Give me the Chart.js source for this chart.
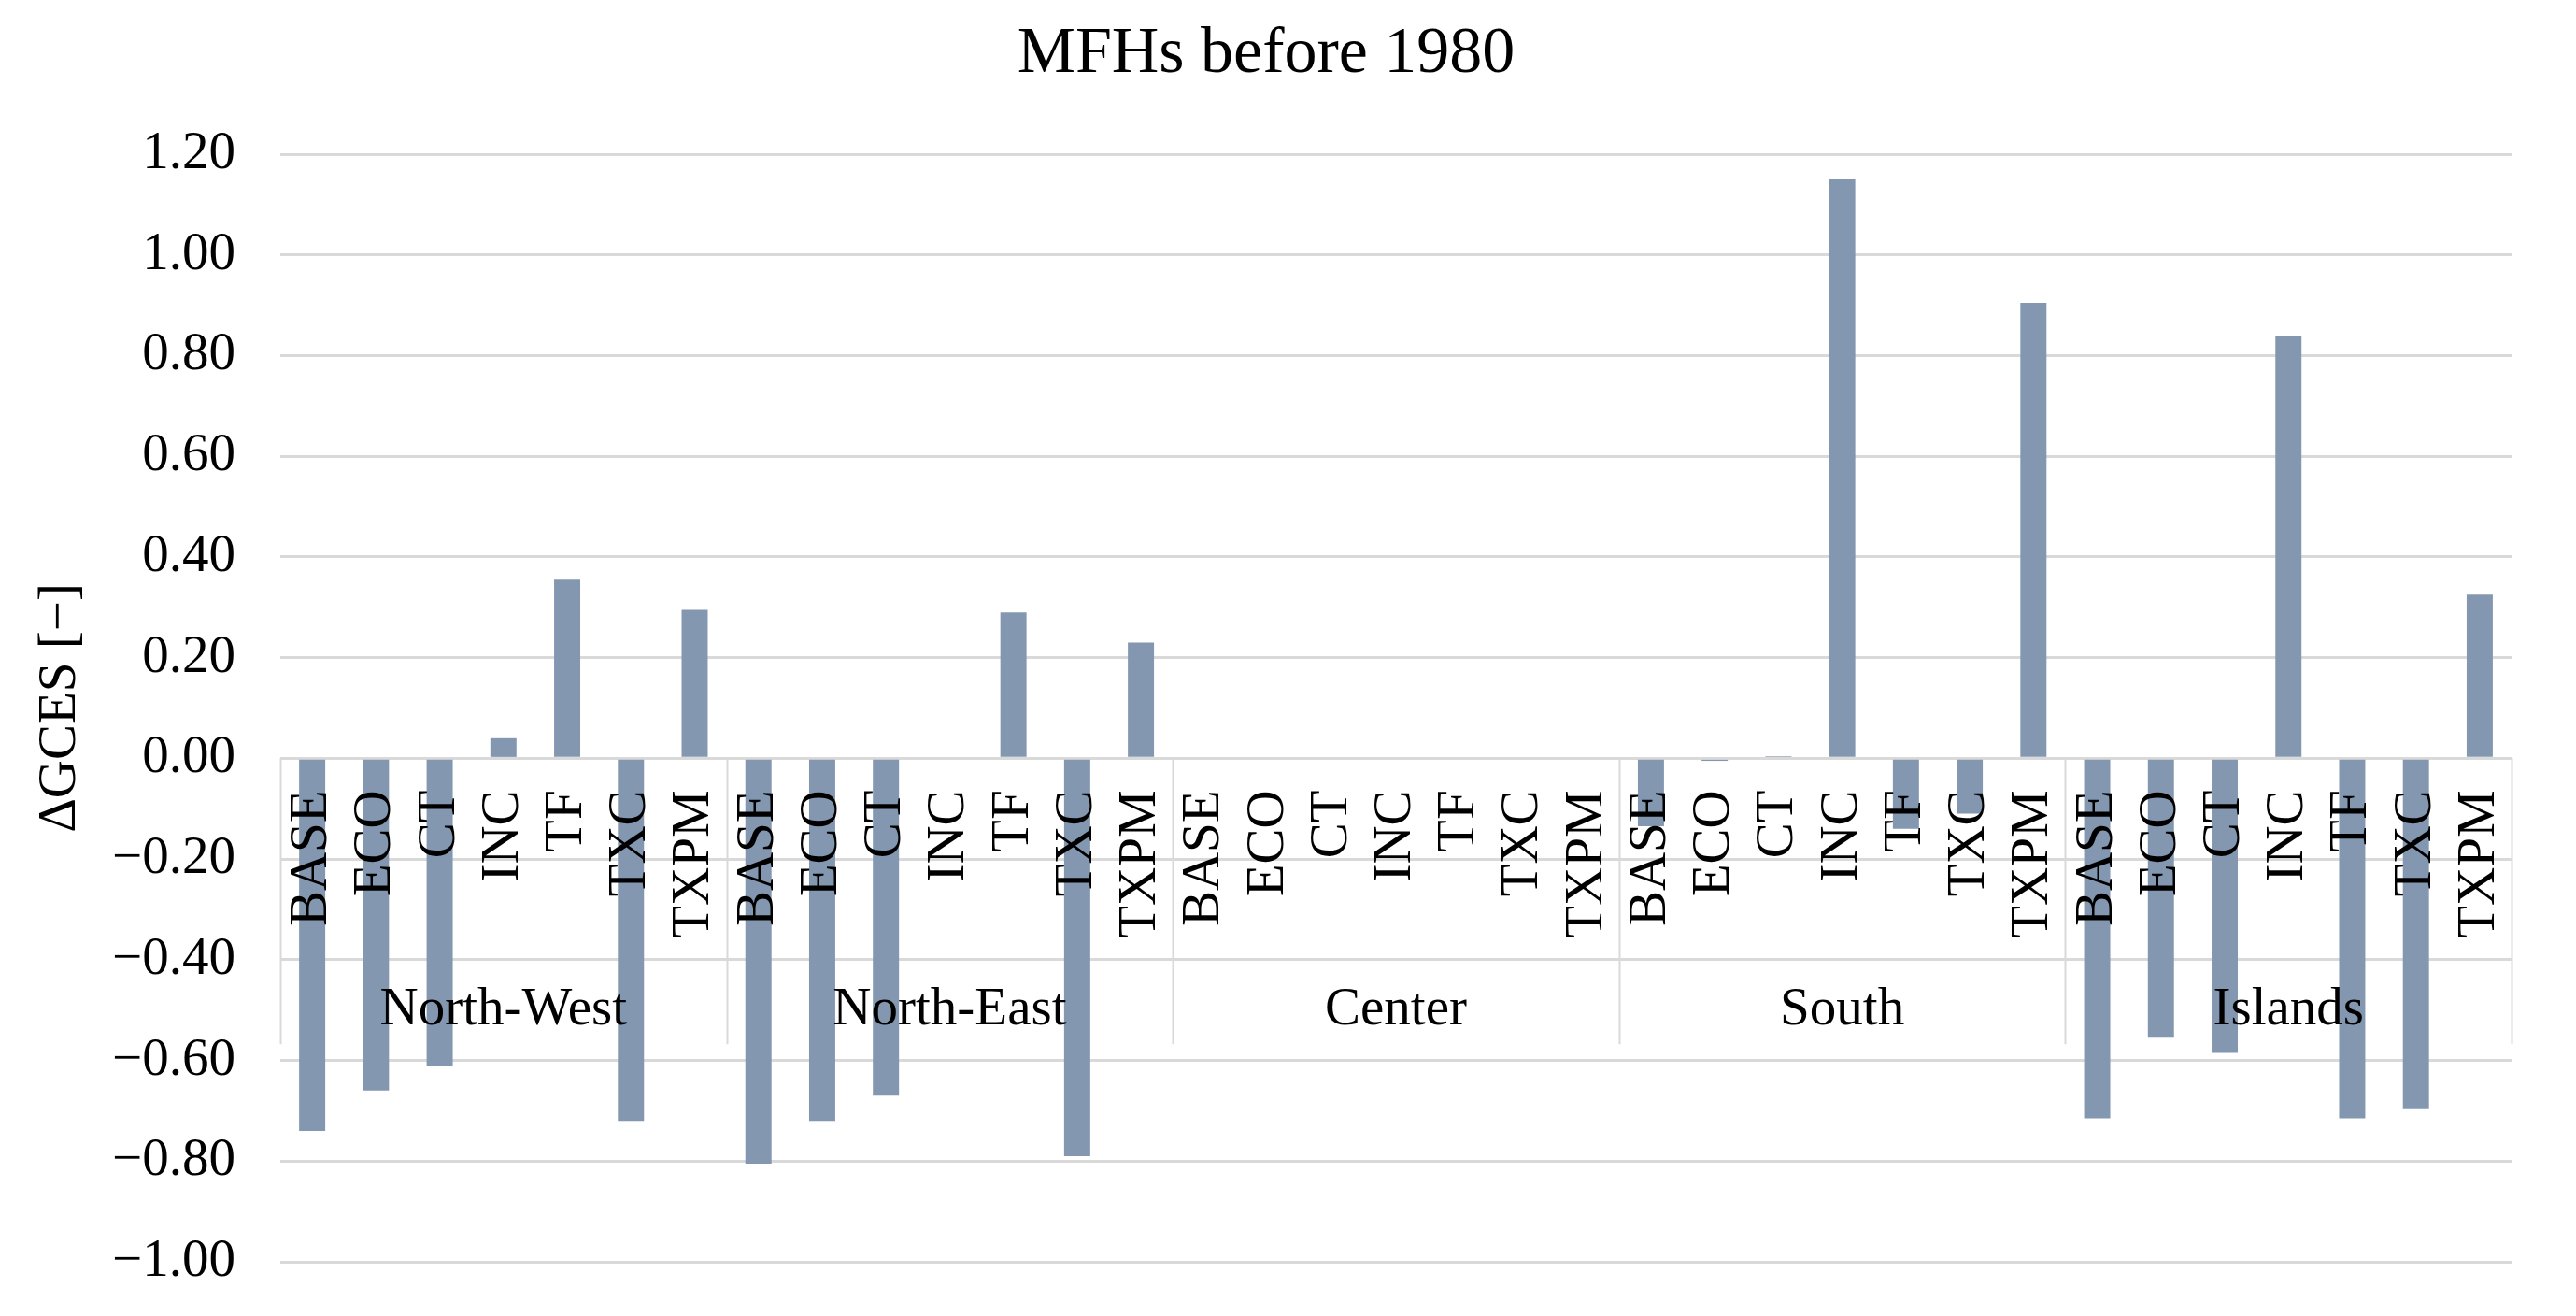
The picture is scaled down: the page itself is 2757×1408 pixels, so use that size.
<!DOCTYPE html>
<html>
<head>
<meta charset="utf-8">
<title>MFHs before 1980</title>
<script src="https://cdn.jsdelivr.net/npm/chart.js@4.4.1/dist/chart.umd.min.js"></script>
<style>
  body { margin: 0; background: #ffffff; }
  #wrap { width: 2757px; height: 1408px; }
</style>
</head>
<body>
<div id="wrap"><canvas id="chart"></canvas></div>
<script>
// escenarios y regiones
const escenarios = ['BASE', 'ECO', 'CT', 'INC', 'TF', 'TXC', 'TXPM'];
const regiones = ['North-West', 'North-East', 'Center', 'South', 'Islands'];

// valores de ΔGCES por región (mismo orden que escenarios)
const northWest = [-0.74, -0.66, -0.61, 0.04, 0.355, -0.72, 0.295];
const northEast = [-0.805, -0.72, -0.67, 0, 0.29, -0.79, 0.23];
const center = [0, 0, 0, 0, 0, 0, 0];
const south = [-0.135, -0.005, 0.004, 1.15, -0.14, -0.11, 0.905];
const islands = [-0.715, -0.555, -0.585, 0.84, -0.715, -0.695, 0.325];

// ticks del eje y
const yTicks = [-1.0, -0.8, -0.6, -0.4, -0.2, 0, 0.2, 0.4, 0.6, 0.8, 1.0, 1.2];

const etiquetas = regiones.flatMap(() => escenarios);
const valores = [].concat(northWest, northEast, center, south, islands);

const fuente = 'Liberation Serif, Times New Roman, serif';
const gris = '#d9d9d9';

// dibuja las regiones debajo de las etiquetas y los separadores
const gruposPlugin = {
  id: 'grupos',
  afterDraw(chart) {
    const { ctx, scales: { x, y } } = chart;
    const y0 = y.getPixelForValue(0);
    const n = escenarios.length;
    ctx.save();
    ctx.strokeStyle = gris;
    ctx.lineWidth = 2;
    for (let g = 0; g <= regiones.length; g++) {
      const px = Math.round(x.getPixelForValue(g * n - 0.5)) + 0.5;
      ctx.beginPath();
      ctx.moveTo(px, y0);
      ctx.lineTo(px, y0 + 306);
      ctx.stroke();
    }
    ctx.fillStyle = '#000000';
    ctx.font = '57px ' + fuente;
    ctx.textAlign = 'center';
    ctx.textBaseline = 'middle';
    regiones.forEach((r, g) => {
      const cx = (x.getPixelForValue(g * n - 0.5) + x.getPixelForValue(g * n + n - 0.5)) / 2;
      ctx.fillText(r, cx, y0 + 270);
    });
    ctx.restore();
  }
};

const ctx = document.getElementById('chart').getContext('2d');
new Chart(ctx, {
  type: 'bar',
  data: {
    labels: etiquetas,
    datasets: [{
      label: 'ΔGCES',
      data: valores,
      backgroundColor: '#8497b0',
      barPercentage: 0.41,
      categoryPercentage: 1.0
    }]
  },
  options: {
    responsive: true,
    maintainAspectRatio: false,
    animation: false,
    layout: { padding: { left: 0, right: 47, top: 0, bottom: 58 } },
    plugins: {
      legend: { display: false },
      tooltip: { enabled: false },
      title: {
        display: true,
        text: 'MFHs before 1980',
        color: '#000000',
        font: { family: fuente, size: 70, weight: 'normal' },
        padding: { top: 17, bottom: 64 }
      }
    },
    scales: {
      x: {
        position: { y: 0 },
        grid: { display: false, drawTicks: false },
        border: { display: false },
        ticks: {
          z: 1,
          autoSkip: false,
          minRotation: 90,
          maxRotation: 90,
          padding: 34,
          color: '#000000',
          font: { family: fuente, size: 57 }
        }
      },
      y: {
        min: yTicks[0],
        max: yTicks[yTicks.length - 1],
        afterFit(scale) {
          scale.width = 300;
          scale.paddingBottom = 0; // que el padding de los ticks no recorte el área
        },
        afterBuildTicks(scale) { scale.ticks = yTicks.map(v => ({ value: v })); },
        grid: { color: gris, lineWidth: 3, drawTicks: false },
        border: { display: false },
        ticks: {
          padding: 48,
          color: '#000000',
          font: { family: fuente, size: 57 },
          callback: v => {
            const r = Math.abs(v) < 1e-9 ? 0 : v;
            return r.toFixed(2).replace('-', '\u2212');
          }
        },
        title: {
          display: true,
          text: 'ΔGCES [\u2212]',
          color: '#000000',
          font: { family: fuente, size: 57 },
          padding: { top: 31, bottom: 0 }
        }
      }
    }
  },
  plugins: [gruposPlugin]
});
</script>
</body>
</html>
